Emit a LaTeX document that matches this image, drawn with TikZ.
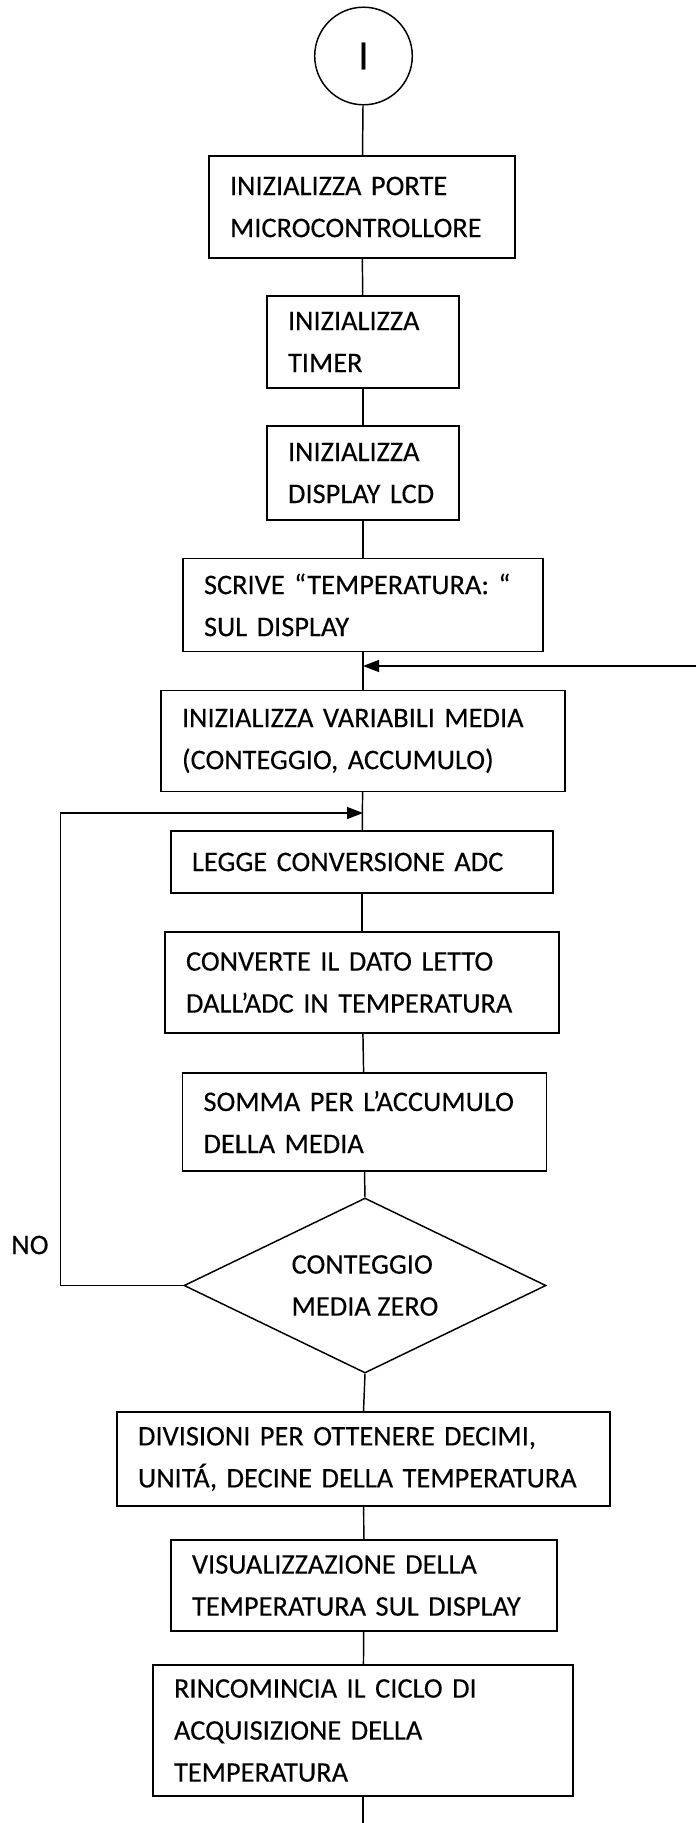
\documentclass[tikz,border=0pt]{standalone}
\usepackage{fontspec}
\setmainfont{Carlito}[FakeBold=0.2]
\usetikzlibrary{shapes.geometric,arrows.meta}

\begin{document}
\begin{tikzpicture}[x=0.75pt,y=-0.75pt,line width=1.1pt]
\tikzset{blocco/.style={draw, rectangle, align=left, inner xsep=15.75pt, inner ysep=0pt,
  font=\fontsize{21.3pt}{31.5pt}\selectfont},
  rombo/.style={draw, diamond, aspect=2.07, inner sep=0pt, align=left,
  font=\fontsize{21.3pt}{31.5pt}\selectfont},
  cerchio/.style={draw, circle, inner sep=0pt, minimum size=73.2pt,
  font=\fontsize{31pt}{31pt}\selectfont},
  freccia/.style={-{Triangle[length=12pt,width=9pt]}}}
\useasboundingbox (0,0) rectangle (696,1823);
\node[cerchio] (inizio) at (363.5,56) {I};
\node[blocco, text width=198pt, minimum height=76.5pt] (porte) at (362,207) {INIZIALIZZA PORTE\\MICROCONTROLLORE};
\node[blocco, text width=112.5pt, minimum height=69pt] (timer) at (363,342) {INIZIALIZZA\\TIMER};
\node[blocco, text width=112.5pt, minimum height=70.5pt] (lcd) at (363,473) {INIZIALIZZA\\DISPLAY LCD};
\node[blocco, text width=238.5pt, minimum height=70pt] (scrive) at (363,605) {SCRIVE “TEMPERATURA: “\\SUL DISPLAY};
\node[blocco, text width=271.5pt, minimum height=75.75pt] (variabili) at (363,741) {INIZIALIZZA VARIABILI MEDIA\\(CONTEGGIO, ACCUMULO)};
\node[blocco, text width=255pt, minimum height=46.5pt] (legge) at (362,862) {LEGGE CONVERSIONE ADC};
\node[blocco, text width=264pt, minimum height=75.75pt] (converte) at (362,982.5) {CONVERTE IL DATO LETTO\\DALL’ADC IN TEMPERATURA};
\node[blocco, text width=241.5pt, minimum height=73.5pt] (somma) at (364.5,1122) {SOMMA PER L’ACCUMULO\\DELLA MEDIA};
\node[rombo, minimum width=271.5pt, minimum height=131.25pt] (conteggio) at (365,1285.5) {CONTEGGIO\\MEDIA ZERO};
\node[blocco, text width=338.25pt, minimum height=70.5pt] (divisioni) at (363.5,1459) {DIVISIONI PER OTTENERE DECIMI,\\UNITÁ, DECINE DELLA TEMPERATURA};
\node[blocco, text width=258pt, minimum height=68.25pt] (visualizza) at (364,1585.5) {VISUALIZZAZIONE DELLA\\TEMPERATURA SUL DISPLAY};
\node[blocco, text width=283.5pt, minimum height=98.25pt] (ricomincia) at (363,1730.5) {RINCOMINCIA IL CICLO DI\\ACQUISIZIONE DELLA\\TEMPERATURA};
\node[font=\fontsize{21.3pt}{21pt}\selectfont] (no) at (30,1245) {NO};
\coordinate (ingresso) at (696,666);
\coordinate (giunto1) at (363,666);
\coordinate (giunto2) at (363,813);
\coordinate (ritorno) at (60.7,813);
\coordinate (uscita) at (363,1823);
\draw (inizio) -- (porte);
\draw (porte) -- (timer);
\draw (timer) -- (lcd);
\draw (lcd) -- (scrive);
\draw (scrive) -- (variabili);
\draw (variabili) -- (legge);
\draw (legge) -- (converte);
\draw (converte) -- (somma);
\draw (somma.south) -- (conteggio.north);
\draw (conteggio.south) -- (divisioni.north);
\draw (divisioni) -- (visualizza);
\draw (visualizza) -- (ricomincia);
\draw (ricomincia.south) -- (uscita);
\draw[freccia] (ingresso) -- (giunto1);
\draw[freccia] (conteggio.west) -| (ritorno) -- (giunto2);
\end{tikzpicture}
\end{document}
